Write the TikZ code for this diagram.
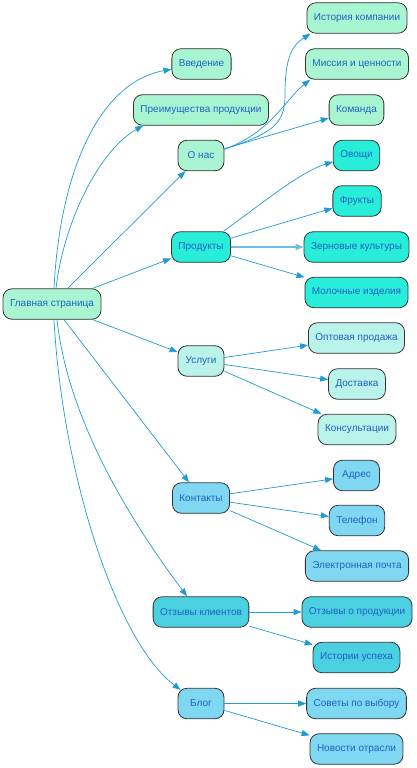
\documentclass[tikz,border=0pt]{standalone}
\usepackage{fontspec}
\setmainfont{Liberation Sans}
\usepackage{xcolor}
\usetikzlibrary{arrows.meta,calc,positioning}
\definecolor{mintc}{HTML}{A9F5D1}
\definecolor{turqc}{HTML}{28EDD9}
\definecolor{palec}{HTML}{BAF3E9}
\definecolor{lbluec}{HTML}{80D7F1}
\definecolor{cyanc}{HTML}{4BD0E1}
\definecolor{txtc}{HTML}{2160C4}
\definecolor{edgec}{HTML}{1E9AD6}

\begin{document}
\begin{tikzpicture}[x=1pt,y=-1pt,
		box/.style={draw=black!80,line width=0.8pt,rounded corners=9pt,minimum height=30.5pt,minimum width=46pt,inner xsep=7pt,text=txtc,font=\fontsize{10}{12}\selectfont},
		edge/.style={draw=edgec,line width=0.7pt,-{Triangle[length=8pt,width=6pt]}},
		mintbox/.style={box,fill=mintc},
		turqbox/.style={box,fill=turqc},
		palebox/.style={box,fill=palec},
		lbluebox/.style={box,fill=lbluec},
		cyanbox/.style={box,fill=cyanc}]
		\useasboundingbox (0,0) rectangle (416,768);
		% root and first level
		\node[mintbox] (main) at (52,304) {Главная страница};
		\node[mintbox] (intro) at (201.5,64) {Введение};
		\node[mintbox] (adv) at (201,110) {Преимущества продукции};
		\node[mintbox] (about) at (201,155.5) {О нас};
		\node[turqbox] (prod) at (201,247) {Продукты};
		\node[palebox] (serv) at (201,361) {Услуги};
		\node[lbluebox] (cont) at (201,498) {Контакты};
		\node[cyanbox] (rev) at (201,612) {Отзывы клиентов};
		\node[lbluebox] (blog) at (201,703.5) {Блог};
		% second level
		\node[mintbox] (hist) at (357,18) {История компании};
		\node[mintbox] (miss) at (357,64) {Миссия и ценности};
		\node[mintbox] (team) at (356.5,110) {Команда};
		\node[turqbox] (veg) at (356.5,155.5) {Овощи};
		\node[turqbox] (fruit) at (357,201) {Фрукты};
		\node[turqbox] (grain) at (356.5,247) {Зерновые культуры};
		\node[turqbox] (dairy) at (356.5,292.5) {Молочные изделия};
		\node[palebox] (whole) at (356.5,338) {Оптовая продажа};
		\node[palebox] (deliv) at (357,384) {Доставка};
		\node[palebox] (cons) at (357,429.5) {Консультации};
		\node[lbluebox] (addr) at (356.5,475.5) {Адрес};
		\node[lbluebox] (phone) at (357,520.5) {Телефон};
		\node[lbluebox] (mail) at (357,566) {Электронная почта};
		\node[cyanbox] (prev) at (357,612) {Отзывы о продукции};
		\node[cyanbox] (story) at (356.5,657.5) {Истории успеха};
		\node[lbluebox] (tips) at (356.5,703.5) {Советы по выбору};
		\node[lbluebox] (news) at (356.5,749) {Новости отрасли};

		% edges from the root
		\draw[edge] ($(main.north)+(2,0)$) .. controls (60,170) and (100,82) .. (intro.190);
		\draw[edge] ($(main.north)+(4,0)$) .. controls (64,220) and (100,150) .. ($(adv.south west)+(10,0)$);
		\draw[edge] (main) -- (about);
		\draw[edge] (main) -- (prod);
		\draw[edge] (main) -- (serv);
		\draw[edge] (main) -- (cont);
		\draw[edge] ($(main.south)+(5,0)$) .. controls (68,420) and (130,520) .. ($(rev.north)+(-14,0)$);
		\draw[edge] ($(main.south)+(2,0)$) .. controls (62,470) and (115,640) .. ($(blog.north west)+(3,2)$);

		% edges of the second level
		\draw[edge] (about.15) .. controls (272,133) and (285,125) .. (285,95) .. controls (285,55) and (293,45) .. ($(hist.south west)+(4,0)$);
		\draw[edge] (about.15) .. controls (270,133) and (285,100) .. ($(miss.south west)+(5,0)$);
		\draw[edge] (about) -- (team);
		\draw[edge] (prod.35) .. controls (260,205) and (300,172) .. (veg.195);
		\draw[edge] (prod) -- (fruit);
		\draw[edge,draw=edgec!65,line width=1.3pt] (prod) -- (grain);
		\draw[edge] (prod) -- (dairy);
		\draw[edge] (serv) -- (whole);
		\draw[edge] (serv) -- (deliv);
		\draw[edge] (serv) -- (cons);
		\draw[edge] (cont) -- (addr);
		\draw[edge] (cont) -- (phone);
		\draw[edge] (cont) -- (mail);
		\draw[edge] (rev) -- (prev);
		\draw[edge] (rev) -- (story);
		\draw[edge] (blog) -- (tips);
		\draw[edge] (blog) -- (news);
\end{tikzpicture}
\end{document}
